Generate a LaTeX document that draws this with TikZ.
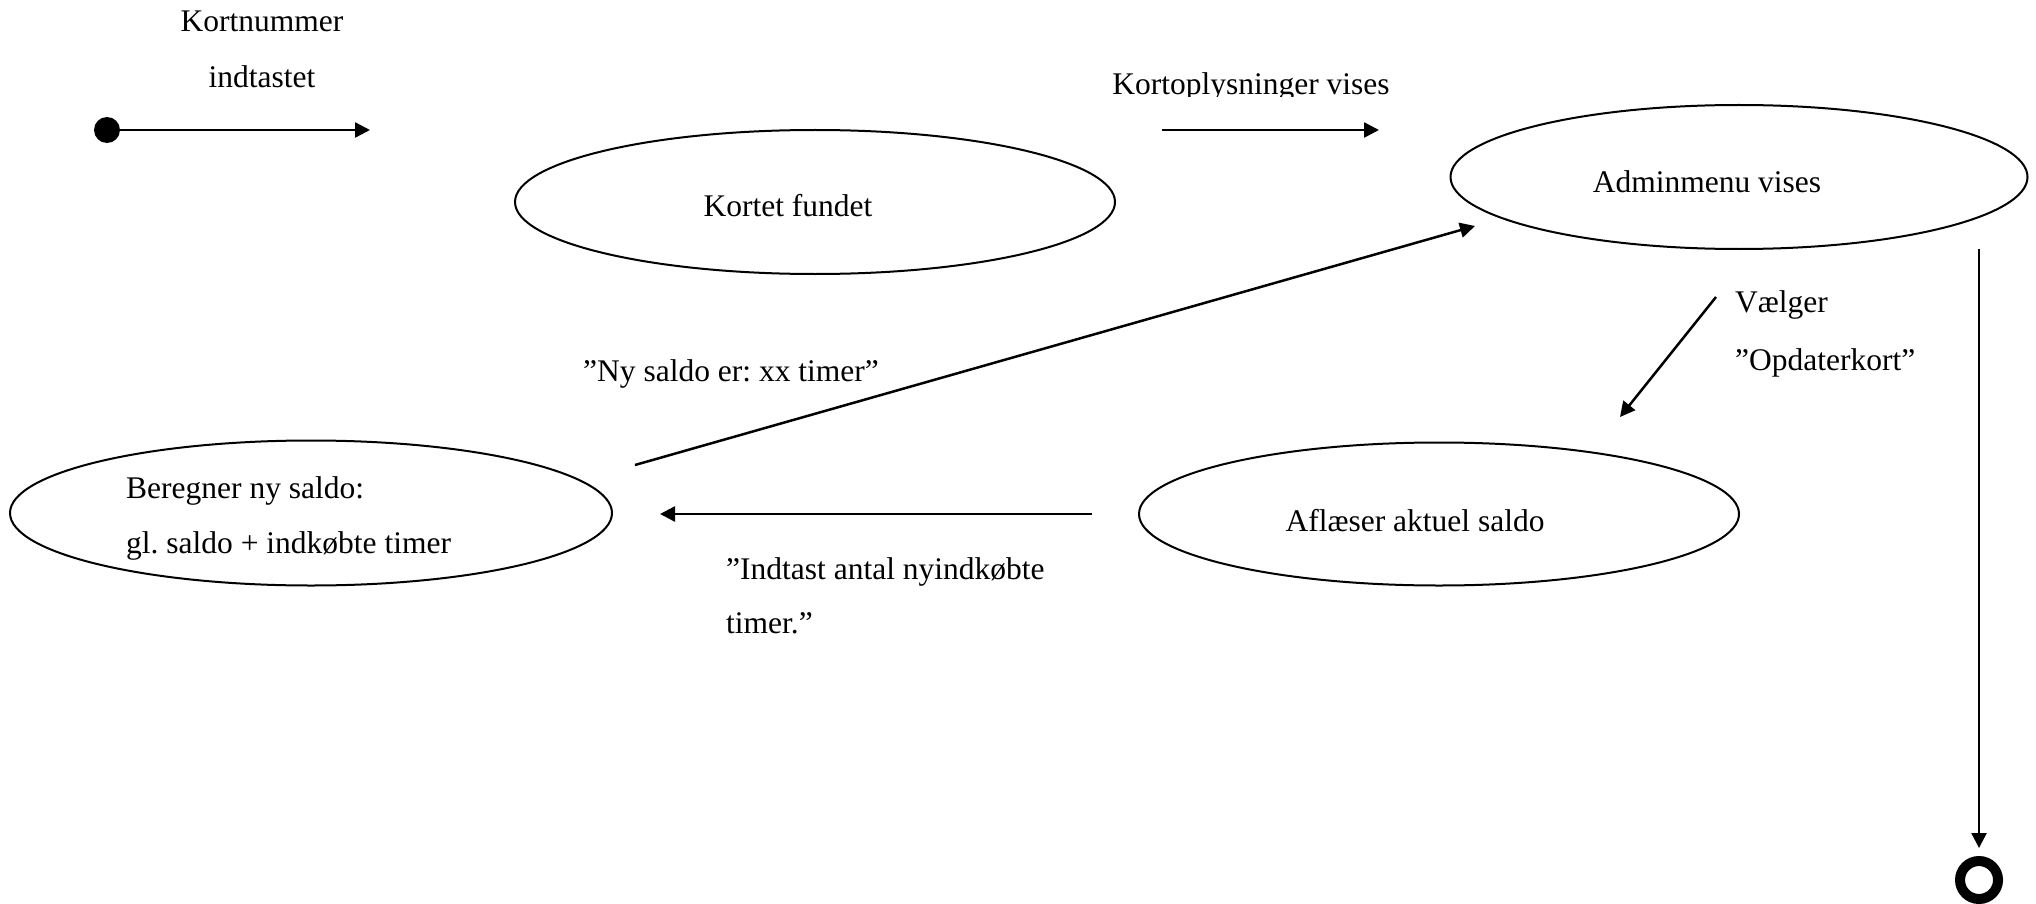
\documentclass[tikz,border=0pt]{standalone}
\usepackage{fontspec}
\setmainfont{Liberation Serif}
\usetikzlibrary{arrows.meta,shapes.geometric}
\frenchspacing
\tikzset{
  lbl/.style={inner sep=0pt, font=\fontsize{31.5}{38}\selectfont},
  state/.style={draw, ellipse, line width=2pt, inner sep=0pt},
  conn/.style={line width=2.5pt, -{Triangle[length=15pt,width=15pt]}},
}
\begin{document}
\frenchspacing
\begin{tikzpicture}[x=1pt,y=-1pt]
\useasboundingbox (0,0) rectangle (2036,904);
% states
\node[state, minimum width=600pt, minimum height=144pt] (kf) at (815,202) {};
\node[state, minimum width=577pt, minimum height=144pt] (am) at (1739,177) {};
\node[state, minimum width=600pt, minimum height=143pt] (af) at (1439,514) {};
\node[state, minimum width=602pt, minimum height=145pt] (bn) at (311,513) {};
% state texts
\node[lbl, anchor=base] (kft) at (788,216) {Kortet fundet};
\node[lbl, anchor=base] (amt) at (1707,193) {Adminmenu vises};
\node[lbl, anchor=base] (aft) at (1415,531) {Aflæser aktuel saldo};
\node[lbl, anchor=base west] (bnt1) at (126,498) {Beregner ny saldo:};
\node[lbl, anchor=base west] (bnt2) at (126,553) {gl. saldo + indkøbte timer};
% initial and final
\node[circle, fill, minimum size=26pt, inner sep=0pt] (start) at (107,130) {};
\node[circle, draw, line width=10pt, minimum size=38pt, inner sep=0pt] (end) at (1979,880) {};
% free ends
\coordinate (s1) at (370,130);
\coordinate (k1) at (1162,130);
\coordinate (k2) at (1379,130);
\coordinate (a1) at (1979,249);
\coordinate (v1) at (1716,297);
\coordinate (v2) at (1620,417);
\coordinate (i1) at (1092,514);
\coordinate (i2) at (660,514);
\coordinate (n1) at (635,465);
\coordinate (n2) at (1475,226);
% connectors
\draw[conn] (start) -- (s1);
\draw[conn] (k1) -- (k2);
\draw[conn, shorten >=8pt] (a1) -- (end);
\draw[conn] (v1) -- (v2);
\draw[conn] (i1) -- (i2);
\draw[conn] (n1) -- (n2);
% labels
\node[lbl, anchor=base] (l1a) at (262,32) {Kortnummer};
\node[lbl, anchor=base] (l1b) at (262,88) {indtastet};
\begin{scope}
\clip (1080,50) rectangle (1420,96.5);
\node[lbl, anchor=base] (l2) at (1251,95) {Kortoplysninger vises};
\end{scope}
\node[lbl, anchor=base west] (l3a) at (1735,312) {Vælger};
\node[lbl, anchor=base west] (l3b) at (1735,370) {”Opdaterkort”};
\node[lbl, anchor=base] (l4) at (731,381) {”Ny saldo er: xx timer”};
\node[lbl, anchor=base west] (l5a) at (726,579) {”Indtast antal nyindkøbte};
\node[lbl, anchor=base west] (l5b) at (726,633) {timer.”};
\end{tikzpicture}
\end{document}
